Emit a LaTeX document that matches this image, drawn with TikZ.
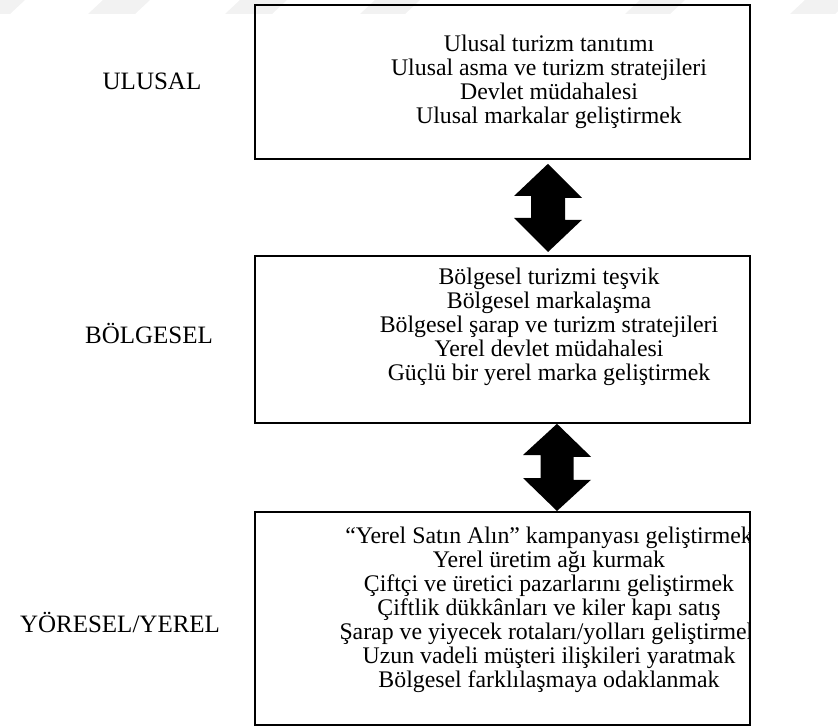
\documentclass[tikz,border=0pt]{standalone}
\usepackage{fontspec}
\setmainfont{Liberation Serif}
\begin{document}
\begin{tikzpicture}[x=1pt,y=-1pt,
  level/.style={draw=black, line width=1.8pt, minimum width=495pt, anchor=north west, inner sep=0pt},
  itemtext/.style={font=\fontsize{23.8}{24}\selectfont, align=center, inner sep=0pt},
  leveltitle/.style={font=\fontsize{25}{28}\selectfont, inner sep=0pt},
  blockarrow/.style={fill=black},
  wm/.style={fill=black!5, draw=none}]
\useasboundingbox (0,0) rectangle (838,727);

% faint stripes along the top edge
\foreach \a/\b in {-15/10, 88/135, 225/272, 360/405, 625/670, 790/835}
  \fill[wm] (\a,14) -- (\b,14) -- (\b+15,0) -- (\a+15,0) -- cycle;

% level boxes
\node[level, minimum height=154pt] (nat) at (254,4) {};
\node[level, minimum height=167pt] (reg) at (254,255) {};
\node[level, minimum height=213pt] (loc) at (254,511) {};

% box contents, cut off at the inner edge of each frame
\begin{scope}
  \clip ([shift={(1,1)}]nat.north west) rectangle ([shift={(-1,-1)}]nat.south east);
  \node[itemtext] (natitems) at (549,82) {Ulusal turizm tanıtımı\\Ulusal asma ve turizm stratejileri\\Devlet müdahalesi\\Ulusal markalar geliştirmek};
\end{scope}
\begin{scope}
  \clip ([shift={(1,1)}]reg.north west) rectangle ([shift={(-1,-1)}]reg.south east);
  \node[itemtext] (regitems) at (549,327) {Bölgesel turizmi teşvik\\Bölgesel markalaşma\\Bölgesel şarap ve turizm stratejileri\\Yerel devlet müdahalesi\\Güçlü bir yerel marka geliştirmek};
\end{scope}
\begin{scope}
  \clip ([shift={(1,1)}]loc.north west) rectangle ([shift={(-1,-1)}]loc.south east);
  \node[itemtext] (locitems) at (549,610) {“Yerel Satın Alın” kampanyası geliştirmek\\Yerel üretim ağı kurmak\\Çiftçi ve üretici pazarlarını geliştirmek\\Çiftlik dükkânları ve kiler kapı satış\\Şarap ve yiyecek rotaları/yolları geliştirmek\\Uzun vadeli müşteri ilişkileri yaratmak\\Bölgesel farklılaşmaya odaklanmak};
\end{scope}

% level titles
\node[leveltitle] (natlabel) at (152,81) {ULUSAL};
\node[leveltitle] (reglabel) at (149,333) {BÖLGESEL};
\node[leveltitle] (loclabel) at (120,622) {YÖRESEL/YEREL};

% two-way block arrows between the levels
\coordinate (a1t) at (nat.south -| 548,0);
\coordinate (a1b) at (reg.north -| 548,0);
\coordinate (a2t) at (reg.south -| 557,0);
\coordinate (a2b) at (loc.north -| 557,0);
\fill[blockarrow] ([yshift=-4pt]a1t) -- ++(34,34) -- ++(-17,0) -- ++(0,22) -- ++(17,0)
  -- ([yshift=3pt]a1b) -- ++(-34,-34) -- ++(17,0) -- ++(0,-22) -- ++(-17,0) -- cycle;
\fill[blockarrow] (a2t) -- ++(34,33) -- ++(-17.5,0) -- ++(0,23) -- ++(17.5,0)
  -- (a2b) -- ++(-34,-33) -- ++(17.5,0) -- ++(0,-23) -- ++(-17.5,0) -- cycle;
\end{tikzpicture}
\end{document}
